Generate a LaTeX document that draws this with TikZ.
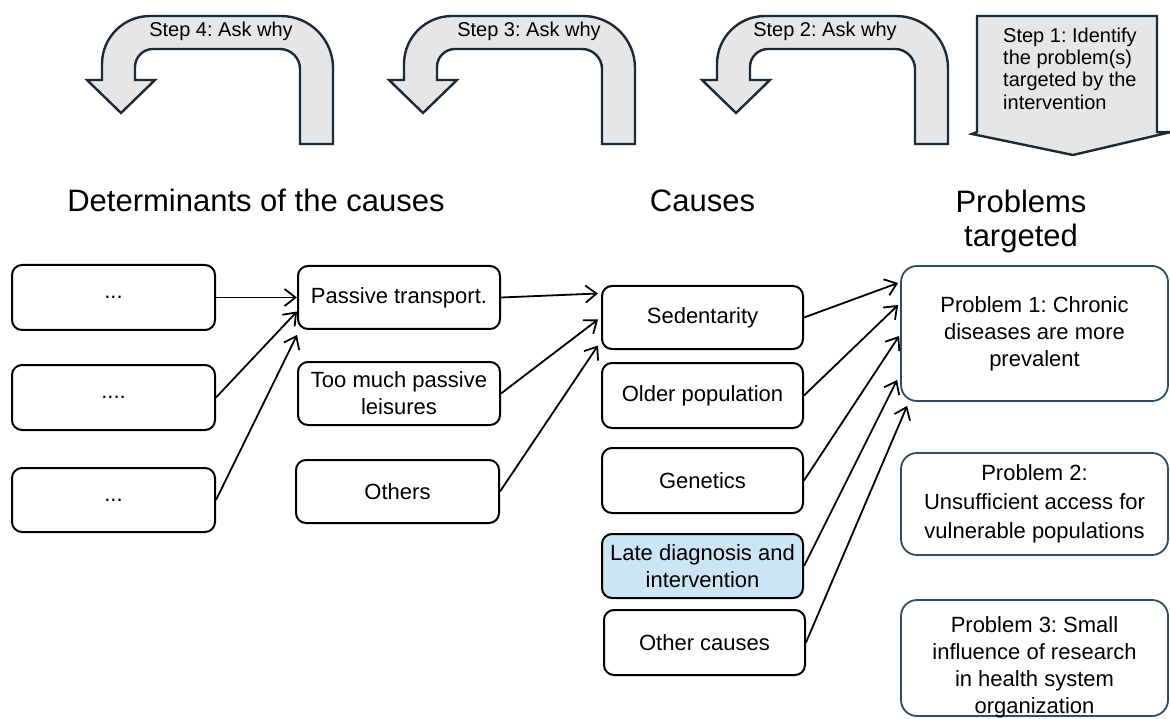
\documentclass[tikz,border=0pt]{standalone}
\usepackage{fontspec}
\setmainfont{Liberation Sans}
\usetikzlibrary{arrows.meta,calc}
\frenchspacing
\definecolor{arrfill}{HTML}{E6E6E6}
\definecolor{arrline}{HTML}{1B2A38}
\definecolor{probline}{HTML}{2B4F63}
\definecolor{latefill}{HTML}{CCE5F4}
\newcommand\bodyfont{\fontsize{22}{27}\selectfont}
\newcommand\probfont{\fontsize{22}{27}\selectfont}
\newcommand\probfontB{\fontsize{22}{29}\selectfont}
\newcommand\stepfont{\fontsize{20}{22.3}\selectfont}
\newcommand\headfont{\fontsize{31}{34}\selectfont}
\newcommand\shiftedlines[2]{\raisebox{#1}[\height][\depth]{\begin{tabular}{@{}c@{}}#2\end{tabular}}}
\begin{document}
\begin{tikzpicture}[x=1pt,y=-1pt,
  box/.style={draw=black, line width=2pt, rounded corners=10pt, align=center,
    font=\bodyfont, inner sep=0pt, minimum width=202pt, minimum height=64pt},
  probbox/.style={draw=probline, line width=1.8pt, rounded corners=16pt, align=center,
    inner sep=0pt, minimum width=267pt},
  conn/.style={line width=1.8pt, -{Straight Barb[length=11pt,width=17pt]}},
  bigarrow/.style={fill=arrfill, draw=arrline, line width=2.4pt, line join=miter},
  steplabel/.style={font=\stepfont, anchor=base, inner sep=0pt},
  heading/.style={font=\headfont, inner sep=0pt}
]
\useasboundingbox (0,0) rectangle (1170,719);

% U-turn arrows (steps 4, 3, 2)
\foreach \R/\tx/\lab in {333/221/Step 4: Ask why, 635/529/Step 3: Ask why, 948/825/Step 2: Ask why}{
  \filldraw[bigarrow] (\R,144) -- (\R,68)
    .. controls (\R,39.3) and (\R-23.3,16) .. (\R-52,16)
    -- (\R-183,16)
    .. controls (\R-209.5,16) and (\R-231,37.5) .. (\R-231,64)
    -- (\R-231,80) -- (\R-246,80) -- (\R-212,113) -- (\R-178,80) -- (\R-198,80)
    -- (\R-198,67)
    .. controls (\R-198,57.1) and (\R-189.9,49) .. (\R-180,49)
    -- (\R-53,49)
    .. controls (\R-42,49) and (\R-33,58) .. (\R-33,69)
    -- (\R-33,144) -- cycle;
  \node[steplabel] (lab\R) at (\tx,37) {\lab};
}

% Step 1 down arrow
\filldraw[bigarrow] (977,16) -- (1157,16) -- (1157,132) -- (1171,132) -- (1073,155)
  -- (972,134) -- (977,132) -- cycle;
\node[font=\stepfont, align=left, anchor=north west, inner sep=0pt] (step1) at (1003,27.5)
  {Step 1: Identify\\the problem(s)\\targeted by the\\intervention};

% Headings
\node[heading, anchor=base] (hdet) at (256,212) {Determinants of the causes};
\node[heading, anchor=base] (hcau) at (702.5,212) {Causes};
\node[heading, anchor=north, align=center] (hprob) at (1021,190) {Problems\\targeted};

% Column 1
\node[box, minimum width=203pt, minimum height=65pt] (L1) at (113.5,297.5) {...};
\node[box, minimum width=203pt, minimum height=65pt] (L2) at (113.5,397.5) {....};
\node[box, minimum width=203pt, minimum height=64pt] (L3) at (113.5,500) {...};

% Column 2
\node[box, minimum height=63pt] (PT) at (399,297.5) {Passive transport.};
\node[box, minimum height=63pt] (TM) at (399,393.5) {Too much passive\\leisures};
\node[box, minimum width=203pt, minimum height=63pt] (OT) at (397.5,491.5) {Others};

% Column 3
\node[box, minimum width=201pt, minimum height=63pt] (Sed) at (702.5,317.5) {Sedentarity};
\node[box, minimum width=201pt, minimum height=65pt] (Old) at (702.5,395.5) {Older population};
\node[box, minimum width=201pt, minimum height=65pt] (Gen) at (702.5,480.5) {Genetics};
\node[box, minimum width=201pt, minimum height=64pt, fill=latefill] (Late) at (702.5,566) {Late diagnosis and\\intervention};
\node[box, minimum width=201pt, minimum height=65pt] (OC) at (704.5,642.5) {Other causes};

% Column 4
\node[probbox, font=\probfont, minimum height=135pt] (P1) at (1034.5,333.5)
  {Problem 1: Chronic\\diseases are more\\prevalent};
\node[probbox, font=\probfontB, minimum height=102pt] (P2) at (1034.5,504)
  {Problem 2:\\Unsufficient access for\\vulnerable populations};
\node[probbox, font=\probfont, minimum height=116pt] (P3) at (1034.5,658)
  {\shiftedlines{-10pt}{Problem 3: Small\\influence of research\\in health system\\organization}};

% Connectors
\draw[conn] (L1.east) -- (PT.west);
\draw[conn] (L2.east) -- ($(PT.west)+(0,14)$);
\draw[conn] (L3.east) -- ($(PT.south west)+(0,5)$);

\draw[conn] (PT.east) -- ($(Sed.west)+(-3,-24)$);
\draw[conn] (TM.east) -- ($(Sed.west)+(-3,2)$);
\draw[conn] (OT.east) -- ($(Sed.west)+(-3,28)$);

\draw[conn] (Sed.east) -- ($(P1.west)+(-2,-50.5)$);
\draw[conn] (Old.east) -- ($(P1.west)+(-2,-28.5)$);
\draw[conn] (Gen.east) -- ($(P1.west)+(-1,2.5)$);
\draw[conn] (Late.east) -- ($(P1.west)+(-3,46.5)$);
\draw[conn] (OC.east) -- ($(P1.south west)+(7,4)$);
\end{tikzpicture}
\end{document}
